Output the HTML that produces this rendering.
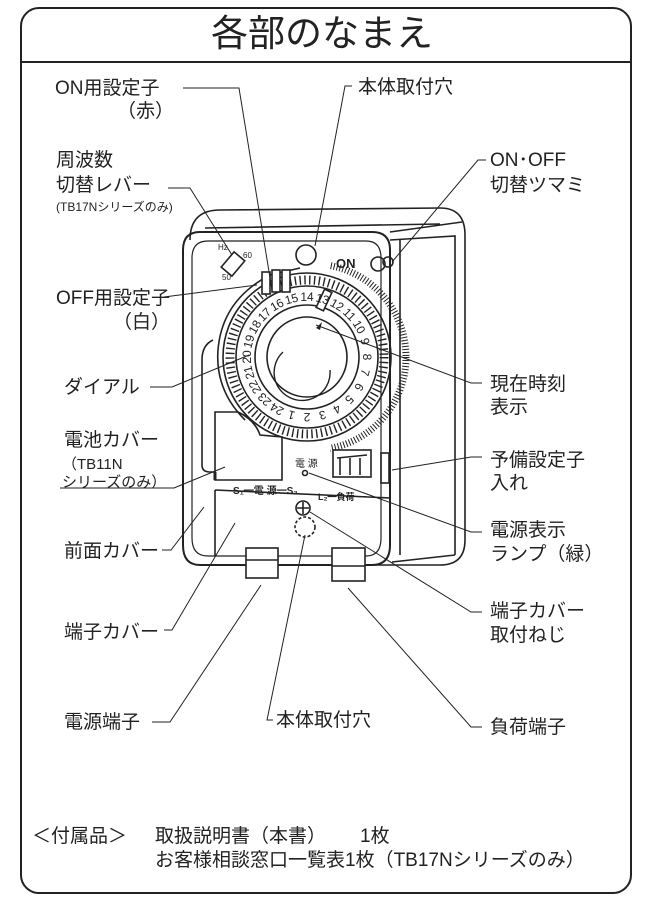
<!DOCTYPE html>
<html><head><meta charset="utf-8"><style>
html,body{margin:0;padding:0;background:#fff}
svg{display:block}
text{font-family:"Liberation Sans","Noto Sans CJK JP",sans-serif;fill:#222}
</style></head><body>
<svg width="652" height="907" viewBox="0 0 652 907" xmlns="http://www.w3.org/2000/svg">
<defs>
<clipPath id="rh"><rect x="330" y="250" width="120" height="220"/></clipPath>
</defs>
<rect x="21" y="8" width="610" height="885" rx="18" fill="none" stroke="#222" stroke-width="2"/>
<line x1="21" y1="62" x2="631" y2="62" stroke="#222" stroke-width="2"/>
<text x="322" y="46" font-size="37" text-anchor="middle">各部のなまえ</text>

<g fill="none" stroke="#222" stroke-width="1.6">
<path d="M190 240 Q190 210 220 210 L440 208 Q465 208 465 235 L465 540 Q465 565 440 565 L205 565"/>
<path d="M205 228 L440 224 M390 232 L462 222"/>
<path d="M390 240 L455 236 L455 555 M400 240 L400 555 M392 562 L455 555"/>
<path d="M183 250 Q183 232 200 232 L372 232 Q390 232 390 250 L390 545 Q390 565 372 565 L200 565 Q183 565 183 545 Z" stroke-width="2"/>
<path d="M192 258 Q192 241 208 241 L366 241 Q381 241 381 258 L381 538 Q381 556 366 556 L208 556 Q192 556 192 538 Z" stroke-width="1.2"/>
<path d="M213 340 Q202 345 202 360 L202 465 Q202 472 210 472 L215 472"/>
<path d="M215 412 L238 412 Q255 420 260 435 L282 437 L282 480 L215 480 Z"/>
<line x1="215" y1="472" x2="215" y2="480" stroke-width="3"/>
<line x1="215" y1="490" x2="390" y2="498" />
<line x1="215" y1="490" x2="215" y2="556" />
<circle cx="306" cy="255" r="10"/>
<rect x="226" y="254" width="14" height="20" transform="rotate(40 233 264)" fill="#fff"/>
<circle cx="378" cy="264" r="7"/>
<circle cx="388" cy="262" r="5"/>
<path d="M245 420 Q215 390 218 350 Q222 300 270 275 L300 268"/>
<circle cx="313" cy="357" r="93" stroke-width="7" stroke-dasharray="1 2" clip-path="url(#rh)"/>
<circle cx="307" cy="357" r="84"/>
<circle cx="307" cy="357" r="77" stroke-width="9" stroke-dasharray="1.4 3.4"/>
<circle cx="307" cy="357" r="71"/>
<circle cx="307" cy="357" r="52"/>
<circle cx="307" cy="357" r="40"/>
<path d="M283 352 A 28 28 0 1 0 330 370" stroke-width="1.4"/>
<rect x="262" y="272" width="8" height="22" fill="#fff"/>
<rect x="272" y="270" width="8" height="22" fill="#fff"/>
<rect x="282" y="270" width="8" height="22" fill="#fff"/>
<rect x="320" y="290" width="8" height="20" transform="rotate(25 324 300)" fill="#fff"/>
<rect x="333" y="450" width="38" height="27"/>
<path d="M337 458 L367 455 M340 458 L340 475 M350 458 L350 475 M360 458 L360 475"/>
<rect x="381" y="453" width="8" height="30"/>
<circle cx="305" cy="473" r="2.5"/>
<circle cx="303" cy="508" r="7"/>
<path d="M297 508 H309 M303 502 V514"/>
<circle cx="305" cy="527" r="10" stroke-dasharray="3 2"/>
<rect x="246" y="548" width="32" height="30" fill="#fff"/>
<line x1="246" y1="560" x2="278" y2="560"/>
<rect x="332" y="548" width="33" height="33" fill="#fff"/>
<line x1="332" y1="566" x2="365" y2="566"/>
</g>
<polygon points="316,328 322,322 320,330" fill="#222"/>
<text x="218" y="250" font-size="8">Hz</text>
<text x="222" y="280" font-size="8">50</text>
<text x="243" y="258" font-size="8">60</text>
<text x="336" y="268" font-size="13" font-weight="bold">ON</text>
<text x="295" y="467" font-size="10">電 源</text>
<text x="233" y="494" font-size="10" font-weight="bold">S₁━電 源━S₂</text>
<text x="318" y="500" font-size="9" font-weight="bold">L₂━負荷 ━</text>

<g font-size="12" text-anchor="middle">
<text transform="translate(291.5 415) rotate(195)" y="4">1</text>
<text transform="translate(307 417) rotate(180)" y="4">2</text>
<text transform="translate(322.5 415) rotate(165)" y="4">3</text>
<text transform="translate(337 409) rotate(150)" y="4">4</text>
<text transform="translate(349.4 399.4) rotate(135)" y="4">5</text>
<text transform="translate(359 387) rotate(120)" y="4">6</text>
<text transform="translate(365 372.5) rotate(105)" y="4">7</text>
<text transform="translate(367 357) rotate(90)" y="4">8</text>
<text transform="translate(365 341.5) rotate(75)" y="4">9</text>
<text transform="translate(359 327) rotate(60)" y="4">10</text>
<text transform="translate(349.4 314.6) rotate(45)" y="4">11</text>
<text transform="translate(337 305) rotate(30)" y="4">12</text>
<text transform="translate(322.5 299) rotate(15)" y="4">13</text>
<text transform="translate(307 297) rotate(0)" y="4">14</text>
<text transform="translate(291.5 299) rotate(-15)" y="4">15</text>
<text transform="translate(277 305) rotate(-30)" y="4">16</text>
<text transform="translate(264.6 314.6) rotate(-45)" y="4">17</text>
<text transform="translate(255 327) rotate(-60)" y="4">18</text>
<text transform="translate(249 341.5) rotate(-75)" y="4">19</text>
<text transform="translate(247 357) rotate(-90)" y="4">20</text>
<text transform="translate(249 372.5) rotate(-105)" y="4">21</text>
<text transform="translate(255 387) rotate(-120)" y="4">22</text>
<text transform="translate(264.6 399.4) rotate(-135)" y="4">23</text>
<text transform="translate(277 409) rotate(-150)" y="4">24</text>
</g>

<g fill="none" stroke="#222" stroke-width="1">
<path d="M183 88 H239 L272 290"/>
<path d="M352 86 H345 L315 246"/>
<path d="M486 160 H478 L392 262"/>
<path d="M168 188 H190 L232 255"/>
<path d="M164 297 L257 285"/>
<path d="M150 387 H172 L249 355"/>
<path d="M316 325 L471 383 H482"/>
<path d="M60 488 H174 L225 467"/>
<path d="M392 470 L471 457 H482"/>
<path d="M309 473 L471 532 H482"/>
<path d="M162 550 H171 L204 507"/>
<path d="M164 630 H172 L235 523"/>
<path d="M310 512 L471 612 H482"/>
<path d="M152 722 H170 L261 585"/>
<path d="M273 720 H267 L305 535"/>
<path d="M348 588 L471 727 H482"/>
</g>

<g font-size="19">
<text x="55" y="94">ON用設定子</text>
<text x="117" y="117">（赤）</text>
<text x="358" y="93">本体取付穴</text>
<text x="56" y="166">周波数</text>
<text x="56" y="191">切替レバー</text>
<text x="56" y="211" font-size="12">(TB17Nシリーズのみ)</text>
<text x="490" y="166">ON･OFF</text>
<text x="490" y="191">切替ツマミ</text>
<text x="56" y="304">OFF用設定子</text>
<text x="113" y="328">（白）</text>
<text x="64" y="393">ダイアル</text>
<text x="490" y="390">現在時刻</text>
<text x="490" y="413">表示</text>
<text x="64" y="446">電池カバー</text>
<text x="62" y="469" font-size="15">（TB11N</text>
<text x="62" y="487" font-size="15">シリーズのみ）</text>
<text x="490" y="466">予備設定子</text>
<text x="490" y="489">入れ</text>
<text x="490" y="536">電源表示</text>
<text x="490" y="560">ランプ（緑）</text>
<text x="64" y="557">前面カバー</text>
<text x="64" y="638">端子カバー</text>
<text x="490" y="617">端子カバー</text>
<text x="490" y="641">取付ねじ</text>
<text x="64" y="728">電源端子</text>
<text x="276" y="726">本体取付穴</text>
<text x="490" y="733">負荷端子</text>
<text x="32" y="842">＜付属品＞</text>
<text x="155" y="842">取扱説明書（本書）</text>
<text x="360" y="842">1枚</text>
<text x="155" y="866">お客様相談窓口一覧表1枚（TB17Nシリーズのみ）</text>
</g>
</svg>
</body></html>
